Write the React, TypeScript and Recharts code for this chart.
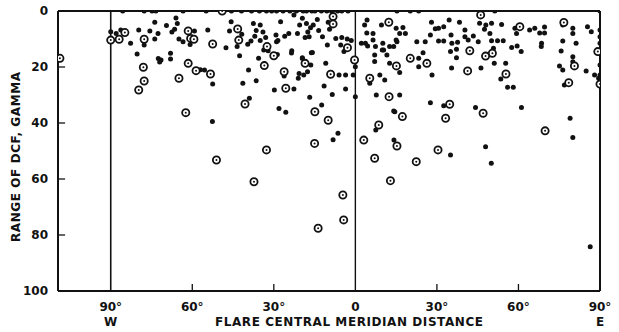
import { ScatterChart, Scatter, XAxis, YAxis, ReferenceLine } from 'recharts';

// x: flare central meridian distance (W negative, E positive), y: range of DCF in gamma
const westDots: [number, number][] = [
  [-85.6, 0], [-77.7, 0], [-74.8, 0], [-73.4, 0], [-63.4, 0], [-54.9, 0], [-45.6, 0], [-41.9, 0],
  [-38.2, 0], [-35.3, 0], [-32.7, 0], [-30.8, 0], [-29, 0], [-26.6, 0], [-24.1, 0], [-21.7, 0],
  [-19.2, 0], [-18, 0], [-16, 0], [-14.9, 0], [-12.5, 0], [-10.5, 0], [-8.8, 0], [-6.5, 0], [-5, 0], [-2.7, 0],
  [-90, 7.4], [-88, 8], [-86.3, 6.8], [-82.7, 11.5], [-79.7, 6.8], [-77.7, 12.1], [-75.6, 7.1],
  [-73.8, 4], [-72.6, 8], [-73.8, 10], [-69.5, 5.2], [-66, 2.5], [-65.5, 4.5], [-66.5, 6.5],
  [-67.5, 7.5], [-64.9, 10], [-63.4, 11], [-80.3, 15.4], [-72.5, 17], [-71.5, 17.5], [-72, 18.2],
  [-68, 15.1], [-68, 17.1], [-59.2, 7.1], [-54.3, 6.8], [-60.8, 12], [-45.7, 3.8], [-46.3, 7.1],
  [-41.8, 8.3], [-43.5, 12.7], [-47.6, 13.1], [-42.6, 16], [-37.5, 4.5], [-35, 5], [-36.5, 7],
  [-34, 7.5], [-37, 9], [-35, 10.5], [-33, 9.5], [-39.6, 11.9], [-38.4, 10.7], [-33.7, 13.9],
  [-29.2, 8.6], [-29, 11], [-35.6, 16.9], [-39.3, 21.1], [-57, 21], [-55.5, 21.1], [-52.5, 26.1],
  [-41.4, 25.8], [-36.5, 24.9], [-29.8, 28.2], [-39, 31.2], [-52.6, 39.5], [-27.5, 3.8],
  [-22.6, 1.4], [-19.5, 2.6], [-18, 4.5], [-16.5, 6], [-17.5, 7.5], [-15.5, 5], [-14, 3],
  [-20.5, 5], [-13.5, 7], [-18.5, 9.5], [-21.3, 8], [-17, 9.2], [-12.1, 9.2], [-10, 4], [-9.5, 6.5],
  [-28.5, 10.5], [-26, 9], [-24.5, 8], [-23.4, 14.2], [-19.5, 16.7], [-16.4, 19.3], [-17.6, 21.7],
  [-19, 22.9], [-15.8, 14.8], [-10.3, 12.1], [-7.2, 9.8], [-5, 9.5], [-3, 10], [-1.5, 10.5],
  [-5.4, 12.1], [-4.2, 14.5], [0, 19.9], [-6, 22.9], [-3.6, 22.9], [-0.8, 22.9], [-26.2, 23.2],
  [-20.7, 22.3], [-21, 24], [-10.9, 18.7], [-22.6, 27.9], [-11.5, 26.8], [-8.5, 29.8], [-3.6, 27.9],
  [0, 30.6], [-12.4, 33.6], [-28.1, 34.8], [-25.6, 36.2], [-28.7, 15.5], [-6.4, 43.7], [-8.2, 46],
  [-32.1, 14.2], [-23.5, 15], [-19.5, 17], [-16.2, 14.9], [-16.8, 30.8],
];

const westRings: [number, number][] = [
  [-108.7, 16.9], [-90, 10.4], [-86.9, 10.1], [-84.8, 7.7], [-77.7, 10.1], [-61.5, 7.1],
  [-60.6, 9.8], [-61.5, 18.7], [-78, 20.1], [-77.7, 25], [-79.7, 28.2], [-64.9, 24], [-62.4, 36.3],
  [-59.4, 10.1], [-52.5, 11.8], [-49, 0], [-43.3, 6.4], [-42.9, 10.4], [-32.5, 12.7], [-30, 16],
  [-33.5, 19.5], [-58.6, 21.3], [-53.3, 22.5], [-40.6, 33.2], [-8.2, 2], [-8.2, 4.6], [-18.5, 18.7],
  [-2.9, 13.1], [-0.3, 17.5], [-9.1, 22.6], [-26.2, 21.7], [-25.6, 27.6], [-14.9, 36], [-51.1, 53.2],
  [-32.7, 49.6], [-10, 39], [-15, 47.3], [-37.3, 61], [-4.6, 65.7], [-4.3, 74.6], [-13.7, 77.6],
];

const eastDots: [number, number][] = [
  [15.3, 0], [20.2, 0], [23.3, 0], [51.3, 0], [90, 0],
  [3.4, 5], [9.6, 5], [6.5, 8], [15, 6.2], [16.3, 8], [2.2, 11.5], [4.5, 12.5], [6.5, 10.4],
  [10.1, 11.5], [12.6, 12.7], [15, 10.4], [9.9, 13.9], [7.1, 15.7], [7.1, 18], [12.6, 18.7],
  [16.3, 22], [5.3, 25.8], [9, 22.9], [10.8, 24.6], [7.7, 30], [16.3, 30], [14.5, 36], [7.5, 42.5],
  [14.2, 46.1], [4.3, 3.2], [17.5, 5.9], [18.4, 8], [15.3, 11], [4.2, 7.9], [3.7, 11.5], [7.4, 12.7],
  [10.4, 13.9], [14.1, 12.7], [11.6, 15.7], [23.3, 16.9], [23.3, 19.9], [24.9, 14.9], [28.2, 22.9],
  [22.6, 11], [25.7, 11], [27.6, 8.6], [28, 4], [29.4, 6.3], [30.6, 6.2], [32.5, 5.6], [30.6, 10.7],
  [32.5, 10.7], [34.5, 3.2], [35.2, 8.6], [35.5, 11.5], [35, 14.5], [27.6, 32.8], [32.5, 33.8],
  [14.1, 35.7], [38.3, 4], [45.7, 4.4], [47.5, 6.5], [49.5, 8], [48, 5], [50.1, 4.4], [53.8, 4.8],
  [58.7, 6.2], [59.3, 8], [64.1, 6.8], [67.8, 7.9], [68.5, 11.5], [40.3, 6.8], [40.3, 9.2],
  [41.5, 10.4], [43.4, 8.9], [45.2, 11], [50.1, 10.6], [52.3, 10.6], [54.4, 10.6], [37.6, 11.2],
  [37.2, 13.7], [37.2, 16.7], [57.5, 13], [59.5, 12.5], [61, 14.5], [50.8, 13.3], [51.1, 18.7],
  [55.3, 18.7], [46.2, 20.4], [53.5, 24.3], [56, 27.2], [58.1, 27.2], [35.4, 20.4], [44.2, 34.5],
  [61.1, 34.5], [69.6, 5.7], [69.6, 7.9], [66, 6.2], [68.4, 12.7], [76.3, 5], [80, 6.2], [80, 8],
  [85.4, 5.6], [86.8, 7.4], [76.3, 10.7], [81.2, 11.5], [75.7, 14.3], [80, 16.3], [80, 18.1],
  [84.9, 21.4], [75.1, 19.6], [76.3, 21.1], [76.9, 26.4], [90, 6.8], [90, 9.2], [90, 11.5],
  [90, 19.3], [90, 22.9], [88, 22.9], [89.5, 24], [79, 38.3], [80, 45.2], [47.9, 48.5], [35, 51.4],
  [50, 54.4], [86.4, 84.2],
];

const eastRings: [number, number][] = [
  [12.3, 4], [15.1, 19.6], [5.3, 24], [12.4, 30.6], [17.3, 37.7], [8.6, 40.7], [3.1, 46.1],
  [15.3, 48.2], [7.1, 52.6], [12.9, 60.6], [46.1, 1.4], [20.2, 16.9], [26.3, 18.7], [34.7, 33.3],
  [42.1, 14.2], [50.4, 15.1], [47.9, 16.1], [41.3, 21.4], [55.4, 22.5], [47, 36.5], [60.5, 5.6],
  [76.7, 4.1], [80.6, 19.6], [78.5, 25.6], [89.2, 14.5], [90, 26.1], [33.2, 38.3], [69.8, 42.8],
  [30.4, 49.6], [22.4, 53.8],
];

const xTicks = [-90, -60, -30, 0, 30, 60, 90];
const xTickLabels = ['90°', '60°', '30°', '0', '30°', '60°', '90°'];
const yTicks = [0, 20, 40, 60, 80, 100];

const toPoints = (rows: [number, number][]) => rows.map(([x, y]) => ({ x, y }));
const dots = toPoints([...westDots, ...eastDots]);
const rings = toPoints([...westRings, ...eastRings]);

const INK = '#111';
const FONT = '"DejaVu Sans", sans-serif';

const Dot = (p: any) => <circle cx={p.cx} cy={p.cy} r={2.5} fill={INK} />;
const Ring = (p: any) => (
  <g>
    <circle cx={p.cx} cy={p.cy} r={3.6} fill="#fff" stroke={INK} strokeWidth={1.8} />
    <circle cx={p.cx} cy={p.cy} r={1} fill={INK} />
  </g>
);

const tickFont = { fontFamily: FONT, fontSize: 12, fontWeight: 700, fill: INK };

export default function App() {
  return (
    <div style={{ position: 'absolute', left: 0, top: 0, background: '#fff' }}>
      <ScatterChart width={619} height={332} margin={{ top: 11, right: 19, left: 0, bottom: 0 }}>
        <XAxis
          type="number"
          dataKey="x"
          domain={[-109.4, 90]}
          ticks={xTicks}
          tickFormatter={(v: number) => xTickLabels[xTicks.indexOf(v)]}
          tickLine={false}
          tickSize={6}
          tickMargin={5}
          axisLine={{ stroke: INK, strokeWidth: 2 }}
          tick={tickFont}
          height={41}
          allowDataOverflow
          label={() => (
            <text x={349} y={326} textLength={268} lengthAdjust="spacing" fontFamily={FONT} fontSize={12} fontWeight={700} fill={INK} textAnchor="middle">
              FLARE CENTRAL MERIDIAN DISTANCE
            </text>
          )}
        />
        <YAxis
          type="number"
          dataKey="y"
          domain={[0, 100]}
          reversed
          ticks={yTicks}
          tickLine={false}
          tickSize={6}
          tickMargin={4}
          axisLine={{ stroke: INK, strokeWidth: 2 }}
          tick={tickFont}
          width={58}
          allowDataOverflow
          label={() => (
            <text x={0} y={0} transform="translate(20 157) rotate(-90)" textLength={170} lengthAdjust="spacing" fontFamily={FONT} fontSize={12} fontWeight={700} fill={INK} textAnchor="middle">
              RANGE OF DCF, GAMMA
            </text>
          )}
        />
        <ReferenceLine y={0} stroke={INK} strokeWidth={2} />
        <ReferenceLine x={90} stroke={INK} strokeWidth={2}
          label={{ value: 'E', position: 'bottom', offset: 26, fill: INK, fontFamily: FONT, fontSize: 12, fontWeight: 700 }} />
        <ReferenceLine x={-90} stroke={INK} strokeWidth={1.6}
          label={{ value: 'W', position: 'bottom', offset: 26, fill: INK, fontFamily: FONT, fontSize: 12, fontWeight: 700 }} />
        <ReferenceLine x={0} stroke={INK} strokeWidth={1.4} />
        {[20, 40, 60, 80].map((v) => (
          <ReferenceLine key={'y' + v} segment={[{ x: -109.4, y: v }, { x: -106.8, y: v }]} stroke={INK} strokeWidth={1.3} />
        ))}
        {[-60, -30, 30, 60].map((v) => (
          <ReferenceLine key={'x' + v} segment={[{ x: v, y: 100 }, { x: v, y: 97.5 }]} stroke={INK} strokeWidth={1.3} />
        ))}
        <Scatter data={dots} shape={Dot} isAnimationActive={false} />
        <Scatter data={rings} shape={Ring} isAnimationActive={false} />
      </ScatterChart>
    </div>
  );
}
